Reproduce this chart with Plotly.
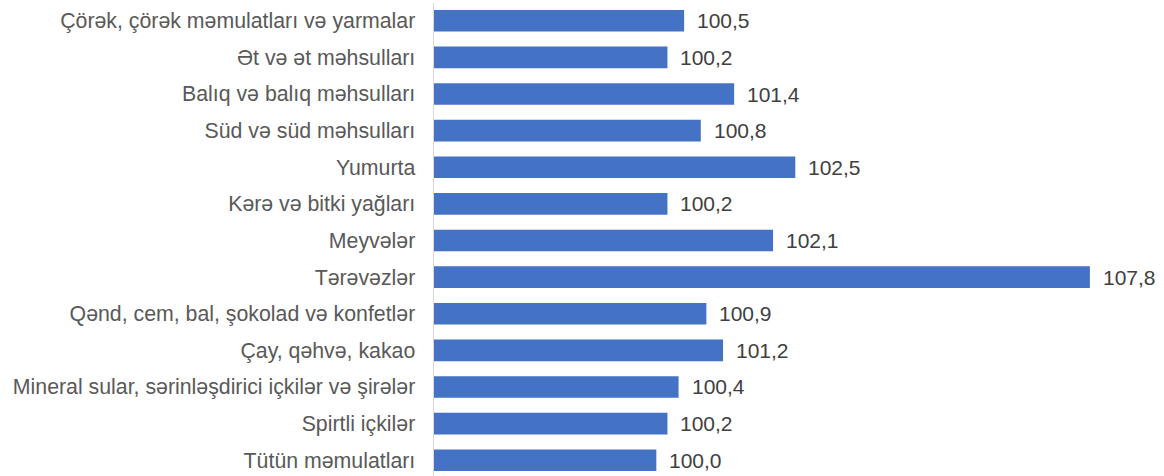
import plotly.graph_objects as go

categories = [
    "Çörək, çörək məmulatları və yarmalar",
    "Ət və ət məhsulları",
    "Balıq və balıq məhsulları",
    "Süd və süd məhsulları",
    "Yumurta",
    "Kərə və bitki yağları",
    "Meyvələr",
    "Tərəvəzlər",
    "Qənd, cem, bal, şokolad və konfetlər",
    "Çay, qəhvə, kakao",
    "Mineral sular, sərinləşdirici içkilər və şirələr",
    "Spirtli içkilər",
    "Tütün məmulatları",
]
values = [100.5, 100.2, 101.4, 100.8, 102.5, 100.2, 102.1, 107.8, 100.9, 101.2, 100.4, 100.2, 100.0]

AXIS_MIN = 96
FONT = "Liberation Sans, Arial, sans-serif"

fig = go.Figure()
fig.add_trace(go.Bar(
    x=[v - AXIS_MIN for v in values],
    y=categories,
    orientation="h",
    base=AXIS_MIN,
    marker=dict(color="#4472C4", line=dict(width=0)),
    width=0.59,
    hoverinfo="skip",
))

for c, v in zip(categories, values):
    fig.add_annotation(
        x=v, y=c, xref="x", yref="y",
        text=f"{v:.1f}".replace(".", ","),
        showarrow=False, xanchor="left", yanchor="middle",
        xshift=11,
        font=dict(family=FONT, size=21, color="#404040"),
    )

fig.update_layout(
    width=1164, height=476,
    margin=dict(l=434, r=63, t=3, b=0, autoexpand=False),
    paper_bgcolor="white", plot_bgcolor="white",
    showlegend=False,
    hovermode=False,
)
fig.update_xaxes(range=[AXIS_MIN, 108], visible=False, showgrid=False, zeroline=False)
fig.update_yaxes(
    categoryorder="array", categoryarray=categories,
    range=[12.431, -0.486],
    showline=True, linecolor="#d9d9d9", linewidth=1.5,
    showgrid=False, zeroline=False, automargin=False,
    ticks="", ticklabelstandoff=13,
    tickfont=dict(family=FONT, size=21.3, color="#595959"),
)

fig.write_html(
    "out.html",
    config={"displayModeBar": False, "staticPlot": True},
    post_script="document.body.style.margin='0';document.body.style.padding='0';",
)
